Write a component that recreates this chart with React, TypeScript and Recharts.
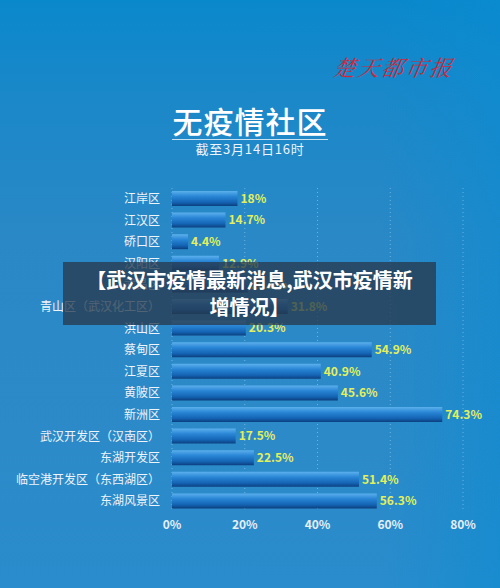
import { BarChart, Bar, XAxis, YAxis, CartesianGrid, LabelList } from "recharts";

// 无疫情社区占比（截至3月14日16时）
const districts = [
  "江岸区",
  "江汉区",
  "硚口区",
  "汉阳区",
  "武昌区",
  "青山区（武汉化工区）",
  "洪山区",
  "蔡甸区",
  "江夏区",
  "黄陂区",
  "新洲区",
  "武汉开发区（汉南区）",
  "东湖开发区",
  "临空港开发区（东西湖区）",
  "东湖风景区",
];
const shares = [18, 14.7, 4.4, 12.9, 20.8, 31.8, 20.3, 54.9, 40.9, 45.6, 74.3, 17.5, 22.5, 51.4, 56.3];
const xTicks = [0, 20, 40, 60, 80];

const data = districts.map((name, i) => ({ name, value: shares[i] }));

const font = '"Noto Sans CJK SC", "Noto Sans", sans-serif';

export default function App() {
  return (
    <div
      style={{
        position: "fixed",
        left: 0,
        top: 0,
        width: 500,
        height: 588,
        overflow: "hidden",
        fontFamily: font,
        background:
          "linear-gradient(180deg, #0a88cc 0%, #1a88c9 16%, #2a88c6 40%, #2c8ac8 75%, #2a8ccc 100%)",
      }}
    >
      {/* right edge glow */}
      <div
        style={{
          position: "absolute",
          right: 0,
          top: 0,
          width: 120,
          height: 588,
          background: "linear-gradient(90deg, rgba(10,140,210,0) 0%, rgba(10,140,210,0.55) 100%)",
        }}
      />

      {/* logo */}
      <div
        style={{
          position: "absolute",
          left: 334,
          top: 51,
          fontSize: 22,
          fontStyle: "italic",
          fontWeight: 400,
          color: "#c92a3c",
          letterSpacing: 2,
          fontFamily: '"Noto Serif CJK SC", "Noto Sans CJK SC", serif',
          transform: "skewX(-10deg)",
        }}
      >
        楚天都市报
      </div>

      {/* title */}
      <div
        style={{
          position: "absolute",
          left: 168,
          top: 102,
          width: 164,
          textAlign: "center",
          color: "#ffffff",
          fontSize: 30,
          fontWeight: 500,
          lineHeight: "36px",
          letterSpacing: 1,
        }}
      >
        无疫情社区
      </div>
      <div
        style={{
          position: "absolute",
          left: 172,
          top: 139,
          width: 156,
          height: 1,
          background: "rgba(255,255,255,0.75)",
        }}
      />
      <div
        style={{
          position: "absolute",
          left: 160,
          top: 140,
          width: 180,
          textAlign: "center",
          color: "#eef4fa",
          fontSize: 13,
          lineHeight: "17px",
          letterSpacing: 0.8,
        }}
      >
        截至3月14日16时
      </div>

      <div style={{ position: "absolute", left: 0, top: 0 }}>
        <BarChart
          width={500}
          height={588}
          data={data}
          layout="vertical"
          margin={{ top: 188, right: 37, bottom: 46, left: 0 }}
          barCategoryGap={3}
        >
          <defs>
            <linearGradient id="barFill" x1="0" y1="0" x2="0" y2="1">
              <stop offset="0%" stopColor="#5cb0ec" />
              <stop offset="35%" stopColor="#2a86d6" />
              <stop offset="75%" stopColor="#1464b4" />
              <stop offset="100%" stopColor="#0c3f7e" />
            </linearGradient>
          </defs>
          <CartesianGrid
            horizontal={false}
            strokeDasharray="1 3"
            stroke="rgba(255,255,255,0.35)"
          />
          <XAxis
            type="number"
            domain={[0, 80]}
            ticks={xTicks}
            tickFormatter={(v) => `${v}%`}
            axisLine={false}
            tickLine={false}
            tick={{ fill: "#e6eef6", fontSize: 12, fontWeight: 700, fontFamily: font }}
            height={30}
          />
          <YAxis
            type="category"
            dataKey="name"
            width={172}
            axisLine={false}
            tickLine={false}
            tickMargin={6}
            interval={0}
            tick={{ fill: "#eef4fa", fontSize: 12, fontFamily: font }}
          />
          <Bar dataKey="value" fill="url(#barFill)" barSize={15} isAnimationActive={false}>
            <LabelList
              dataKey="value"
              position="right"
              offset={3}
              formatter={(v: any) => `${v}%`}
              style={{ fill: "#e4ef5c", fontSize: 12, fontWeight: 700, fontFamily: font }}
            />
          </Bar>
        </BarChart>
      </div>

      {/* overlay banner */}
      <div
        style={{
          position: "absolute",
          left: 63,
          top: 262,
          width: 373,
          height: 63,
          background: "rgba(38,58,78,0.78)",
          color: "#ffffff",
          fontSize: 20,
          fontWeight: 700,
          lineHeight: "27px",
          textAlign: "center",
          paddingTop: 4,
          boxSizing: "border-box",
          whiteSpace: "nowrap",
        }}
      >
        【武汉市疫情最新消息,武汉市疫情新
        <br />
        增情况】
      </div>
    </div>
  );
}
